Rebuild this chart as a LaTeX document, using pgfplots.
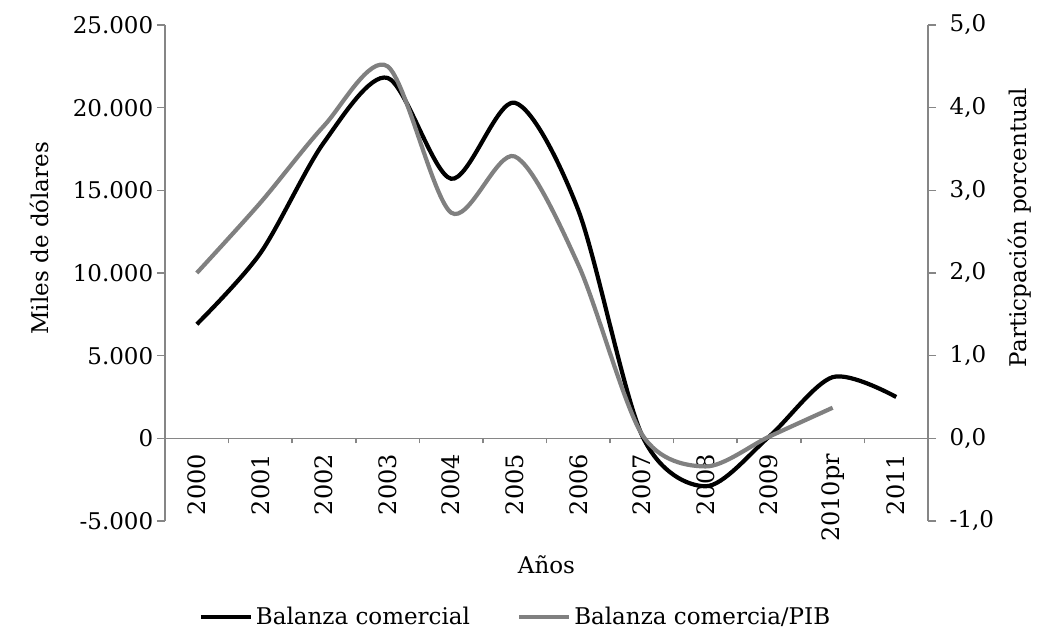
\documentclass[border=0pt]{standalone}
\usepackage{fontspec}
\setmainfont{DejaVu Serif}
\usepackage{pgfplots}
\pgfplotsset{compat=1.18}
\definecolor{axgray}{RGB}{134,134,134}
\definecolor{sergray}{RGB}{128,128,128}

\begin{document}
\fontsize{11}{13}\selectfont
\begin{tikzpicture}
  \path[use as bounding box] (-82.5pt,-57pt) rectangle (446.5pt,260.5pt);
  % left axis: balanza comercial (miles de dolares)
  \begin{axis}[
      at={(0,0)}, anchor=south west,
      scale only axis, width=381.5pt, height=248pt,
      xmin=0, xmax=12, ymin=-5000, ymax=25000,
      axis x line*=middle, axis y line*=left,
      axis line style={axgray, line width=0.8pt},
      every tick/.style={axgray, line width=0.8pt},
      tick align=outside, major tick length=4pt,
      xtick style={/pgfplots/major tick length=2.5pt},
      xtick={0,...,12},
      xticklabels={2000,2001,2002,2003,2004,2005,2006,2007,2008,2009,2010pr,2011},
      x tick label as interval, hide obscured x ticks=false,
      xticklabel style={rotate=90, anchor=east, font=\fontsize{12}{14}\selectfont},
      ytick={-5000,0,5000,10000,15000,20000,25000},
      yticklabel style={font=\fontsize{11.5}{13}\selectfont, xshift=2pt},
      scaled y ticks=false,
      /pgf/number format/fixed,
      /pgf/number format/1000 sep={.},
      /pgf/number format/assume math mode=true,
      ylabel={Miles de dólares},
      ylabel style={at={(axis description cs:-0.164,0.57)}, anchor=center, font=\fontsize{11.5}{13}\selectfont},
      xlabel={Años},
      xlabel style={at={(axis description cs:0.5,-0.089)}, anchor=center, font=\fontsize{11.5}{13}\selectfont},
    ]
    \addplot[black, line width=2.1pt, smooth] coordinates {
      (0.5,6900)(1.5,11200)(2.5,17900)(3.5,21800)(4.5,15700)(5.5,20300)
      (6.5,13800)(7.5,200)(8.5,-2900)(9.5,100)(10.5,3700)(11.5,2500)};
  \end{axis}
  % right axis: balanza comercial / PIB
  \begin{axis}[
      at={(0,0)}, anchor=south west,
      scale only axis, width=381.5pt, height=248pt,
      xmin=0, xmax=12, ymin=-1, ymax=5,
      axis x line=none, axis y line*=right,
      axis line style={axgray, line width=0.8pt},
      every tick/.style={axgray, line width=0.8pt},
      tick align=outside, major tick length=4pt,
      ytick={-1,0,1,2,3,4,5},
      yticklabel style={font=\fontsize{11.5}{13}\selectfont, xshift=3pt},
      /pgf/number format/fixed,
      /pgf/number format/fixed zerofill,
      /pgf/number format/precision=1,
      /pgf/number format/use comma,
      /pgf/number format/assume math mode=true,
      ylabel={Particpación porcentual},
      ylabel style={at={(axis description cs:1.1206,0.592)}, anchor=center, rotate=0, font=\fontsize{11.5}{13}\selectfont},
      legend style={at={(axis description cs:0.46,-0.194)}, anchor=center,
        draw=none, legend columns=2, /tikz/every even column/.append style={column sep=22pt},
        legend cell align=left, font=\fontsize{11.5}{13}\selectfont,
        nodes={inner sep=1.5pt}},
      legend image code/.code={\draw[#1] (0pt,0pt) -- (25pt,0pt);},
    ]
    \addlegendimage{black, line width=2.1pt}
    \addlegendentry{Balanza comercial}
    \addplot[sergray, line width=2.1pt, smooth] coordinates {
      (0.5,2.0)(1.5,2.85)(2.5,3.78)(3.5,4.5)(4.5,2.73)(5.5,3.41)
      (6.5,2.1)(7.5,0.05)(8.5,-0.34)(9.5,0.02)(10.5,0.37)};
    \addlegendentry{Balanza comercia/PIB}
  \end{axis}
\end{tikzpicture}
\end{document}
